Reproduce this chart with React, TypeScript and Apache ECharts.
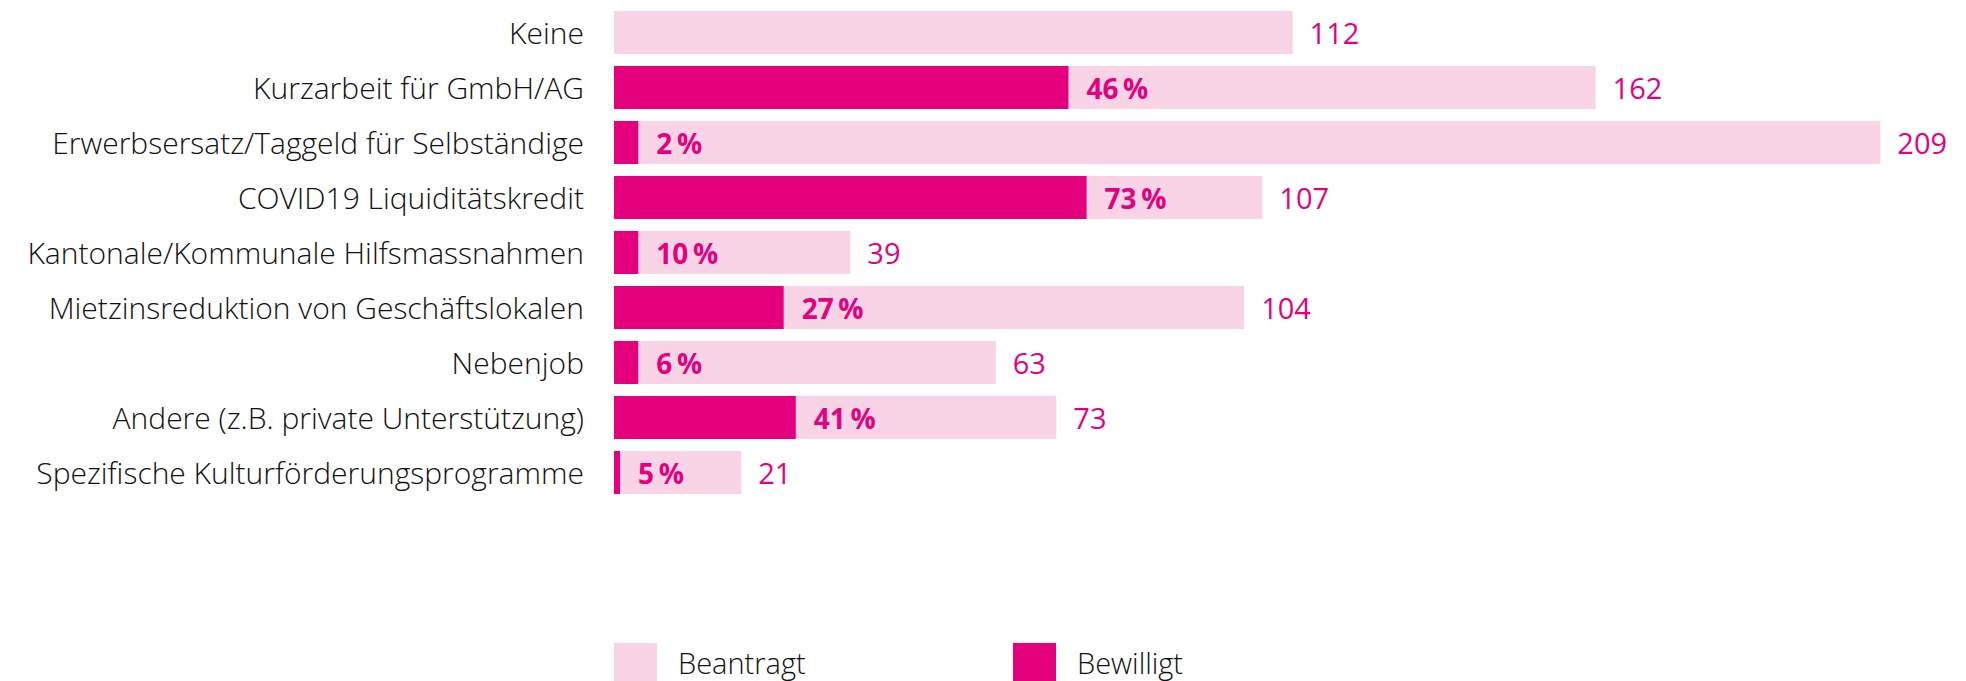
import React, { useEffect, useRef } from "react";
import * as echarts from "echarts";

const categories = [
  "Keine",
  "Kurzarbeit für GmbH/AG",
  "Erwerbsersatz/Taggeld für Selbständige",
  "COVID19 Liquiditätskredit",
  "Kantonale/Kommunale Hilfsmassnahmen",
  "Mietzinsreduktion von Geschäftslokalen",
  "Nebenjob",
  "Andere (z.B. private Unterstützung)",
  "Spezifische Kulturförderungsprogramme",
];
const beantragt = [112, 162, 209, 107, 39, 104, 63, 73, 21];
const bewilligt = [0, 75, 4, 78, 4, 28, 4, 30, 1];
const bewilligtPct = [null, 46, 2, 73, 10, 27, 6, 41, 5];
const seriesNames = ["Beantragt", "Bewilligt"];

const LIGHT = "#F8D4E6";
const DARK = "#E5007E";
const FONT = "'Open Sans', 'Noto Sans', sans-serif";

export default function App() {
  const ref = useRef<HTMLDivElement>(null);
  useEffect(() => {
    document.body.style.margin = "0";
    const chart = echarts.init(ref.current!, undefined, { renderer: "svg" });
    const legendText = {
      fontSize: 29,
      fontFamily: FONT,
      fontWeight: 300,
      color: "#111",
      padding: [0, 0, 0, 16],
    };
    chart.setOption({
      animation: false,
      textStyle: { fontFamily: FONT },
      grid: { left: 614, top: 5, width: 1333, height: 495, containLabel: false },
      xAxis: {
        type: "value",
        min: 0,
        max: 220,
        show: false,
      },
      yAxis: {
        type: "category",
        data: categories,
        inverse: true,
        axisLine: { show: false },
        axisTick: { show: false },
        splitLine: { show: false },
        axisLabel: {
          margin: 30,
          fontSize: 30,
          fontFamily: FONT,
          fontWeight: 300,
          color: "#111",
        },
      },
      legend: [
        {
          data: [seriesNames[0]],
          left: 614,
          top: 643,
          padding: 0,
          icon: "rect",
          itemWidth: 43,
          itemHeight: 38,
          textStyle: legendText,
        },
        {
          data: [seriesNames[1]],
          left: 1013,
          top: 643,
          padding: 0,
          icon: "rect",
          itemWidth: 43,
          itemHeight: 38,
          textStyle: legendText,
        },
      ],
      series: [
        {
          name: seriesNames[0],
          type: "bar",
          data: beantragt,
          barCategoryGap: "21.8%",
          barGap: "-100%",
          itemStyle: { color: LIGHT },
          label: {
            show: true,
            position: "right",
            distance: 17,
            fontSize: 29,
            fontFamily: FONT,
            color: DARK,
          },
          z: 1,
        },
        {
          name: seriesNames[1],
          type: "bar",
          data: bewilligt,
          barCategoryGap: "21.8%",
          barGap: "-100%",
          itemStyle: { color: DARK },
          label: {
            show: true,
            position: "right",
            distance: 18,
            fontSize: 28,
            fontWeight: "bold",
            fontFamily: FONT,
            color: DARK,
            formatter: (p: any) => {
              const v = bewilligtPct[p.dataIndex];
              return v == null ? "" : `${v}\u2009%`;
            },
          },
          z: 2,
        },
      ],
    });
    return () => chart.dispose();
  }, []);
  return (
    <div
      ref={ref}
      style={{ position: "absolute", left: 0, top: 0, width: 1966, height: 681, background: "#fff" }}
    />
  );
}
